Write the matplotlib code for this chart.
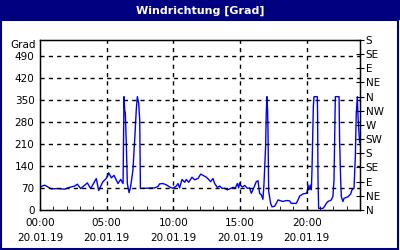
import matplotlib
matplotlib.use("Agg")
import matplotlib.pyplot as plt
from matplotlib.patches import Rectangle

# wind direction, hour of day vs degrees
hours = [0.05, 0.35, 0.85, 1.35, 1.85, 2.22, 2.6, 2.8, 3.05, 3.55, 3.8, 4.22, 4.4, 4.72,
         4.97, 5.15, 5.35, 5.55, 5.85, 6.05, 6.23, 6.3, 6.35, 6.4, 6.48, 6.55, 6.68, 6.8,
         6.97, 7.1, 7.22, 7.3, 7.4, 7.48, 7.53, 7.85, 8.35, 8.6, 8.85, 8.97, 9.22, 9.47,
         9.72, 9.97, 10.22, 10.35, 10.47, 10.65, 10.85, 10.97, 11.15, 11.4, 11.6, 11.85,
         12.05, 12.3, 12.48, 12.65, 12.8, 12.97, 13.1, 13.3, 13.48, 13.65, 13.85, 14.05,
         14.22, 14.47, 14.65, 14.8, 14.9, 14.97, 15.05, 15.18, 15.35, 15.55, 15.72, 15.85,
         16.05, 16.22, 16.35, 16.47, 16.6, 16.72, 16.8, 16.92, 16.97, 17.02, 17.07, 17.1,
         17.15, 17.3, 17.4, 17.6, 17.8, 17.85, 18.22, 18.47, 18.72, 18.85, 19.22, 19.35,
         19.47, 19.72, 19.97, 20.05, 20.1, 20.17, 20.27, 20.35, 20.4, 20.45, 20.5, 20.55,
         20.8, 20.82, 20.85, 20.9, 21.22, 21.35, 21.47, 21.6, 21.85, 21.97, 22.05, 22.1,
         22.15, 22.43, 22.47, 22.55, 22.6, 22.72, 22.8, 23.1, 23.3, 23.4, 23.55, 23.65,
         23.72, 23.8, 23.85, 23.9, 23.97]
degrees = [74, 79, 67, 68, 66, 72, 76, 82, 68, 86, 68, 100, 62, 90,
           100, 118, 102, 110, 84, 97, 84, 360, 318, 307, 200, 84, 55, 75,
           127, 222, 318, 360, 340, 286, 69, 69, 70, 70, 75, 83, 84, 80,
           73, 69, 76, 84, 70, 97, 88, 97, 88, 104, 96, 100,
           114, 108, 104, 97, 90, 100, 84, 72, 76, 69, 69, 64,
           67, 72, 70, 84, 70, 86, 78, 73, 78, 69, 70, 53,
           72, 90, 93, 53, 48, 34, 84, 201, 307, 360, 318, 250,
           60, 21, 10, 12, 27, 32, 27, 30, 29, 21, 21, 32,
           44, 51, 53, 59, 79, 64, 79, 64, 127, 233, 328, 360,
           360, 300, 95, 5, 5, 12, 21, 27, 32, 44, 95, 233,
           360, 360, 222, 95, 42, 27, 37, 42, 51, 64, 69, 169,
           307, 360, 300, 260, 215]

left_ticks = [0, 70, 140, 210, 280, 350, 420, 490]
compass = ["N", "NE", "E", "SE", "S", "SW", "W", "NW", "N", "NE", "E", "SE", "S"]
compass_pos = [i * 45 for i in range(len(compass))]
time_ticks = [0, 5, 10, 15, 20]
time_labels = ["00:00\n20.01.19", "05:00\n20.01.19", "10:00\n20.01.19",
               "15:00\n20.01.19", "20:00\n20.01.19"]

navy = "#000080"
fs = 7.5

fig = plt.figure(figsize=(4, 2.5), dpi=100)
fig.patch.set_facecolor("white")
# title bar and frame
fig.patches.append(Rectangle((0, 1 - 20 / 250), 1, 20 / 250, transform=fig.transFigure,
                             facecolor=navy, edgecolor="none", zorder=0))
fig.patches.append(Rectangle((1 / 400, 1 / 250), 397 / 400, 1 - 21 / 250,
                             transform=fig.transFigure, facecolor="none",
                             edgecolor=navy, linewidth=1.5, zorder=0))
fig.text(0.5, 1 - 10.5 / 250, "Windrichtung [Grad]", color="white", fontsize=8,
         fontweight="bold", ha="center", va="center")

ax = fig.add_axes([0.1, 0.16, 0.8, 0.68])
ax.plot(hours, degrees, color="#0000ff", linewidth=1)
ax.set_xlim(0, 24)
ax.set_ylim(0, 540)

ax.set_yticks(left_ticks)
ax.set_yticklabels([str(v) for v in left_ticks], fontsize=fs)
ax.tick_params(axis="y", length=0, pad=4)
ax.set_xticks(time_ticks)
ax.set_xticklabels(time_labels, fontsize=fs, linespacing=1.6)
ax.set_xticks(range(0, 25), minor=True)
ax.tick_params(axis="x", which="both", direction="in", length=3, pad=6)

for v in left_ticks[1:]:
    ax.axhline(v, color="black", linestyle=(0, (3, 3)), linewidth=1)
for t in time_ticks[1:]:
    ax.axvline(t, color="black", linestyle=(0, (3, 3)), linewidth=1)
for s in ax.spines.values():
    s.set_linewidth(1)

ax.text(-0.012, 0.97, "Grad", transform=ax.transAxes, ha="right", va="center",
        fontsize=fs)

ax2 = ax.twinx()
ax2.set_ylim(0, 540)
ax2.set_yticks(compass_pos)
ax2.set_yticklabels(compass, fontsize=fs)
ax2.tick_params(axis="y", direction="inout", length=6, pad=1)

fig.savefig("out.png", dpi=100)
